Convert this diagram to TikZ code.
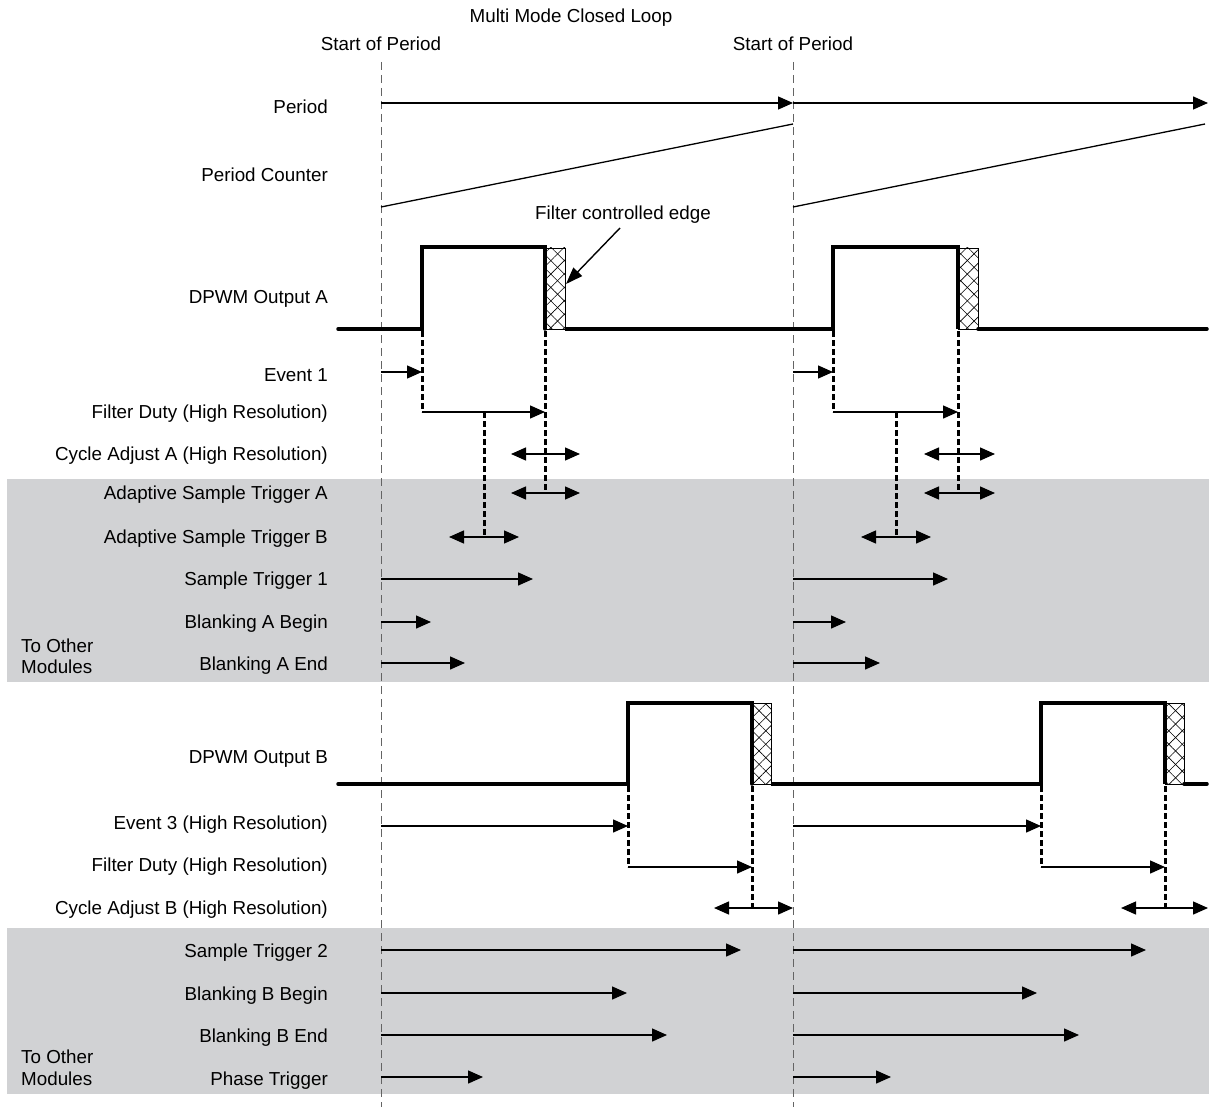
\documentclass[tikz,border=0pt]{standalone}
\usepackage{fontspec}
\setmainfont{Liberation Sans}
\usetikzlibrary{arrows.meta,patterns.meta}
\newcommand{\lblfont}{\fontsize{18.8}{22}\selectfont}
\definecolor{bandgray}{RGB}{209,210,212}
\definecolor{pergray}{RGB}{100,100,100}
\begin{document}
\begin{tikzpicture}[x=1pt,y=-1pt,
  lbl/.style={anchor=base east,inner sep=0pt,font=\lblfont},
  lblw/.style={anchor=base west,inner sep=0pt,font=\lblfont,align=left},
  ttl/.style={anchor=base,inner sep=0pt,font=\lblfont},
  sig/.style={line width=3.5pt,line join=miter},
  tip/.tip={Triangle[length=15pt,width=13pt]},
  arr/.style={line width=1.4pt,-tip},
  darr/.style={line width=1.4pt,tip-tip},
  edgedash/.style={line width=3pt,dash pattern=on 6pt off 3pt},
  perline/.style={pergray,line width=1pt,dash pattern=on 8pt off 5pt},
  ramp/.style={line width=1.3pt},
]
\useasboundingbox (0,0) rectangle (1209,1107);

% shaded bands
\fill[bandgray] (7,479) rectangle (1209,682);
\fill[bandgray] (7,928) rectangle (1209,1094);

% start-of-period lines
\draw[perline] (381,62) -- (381,1107);
\draw[perline] (793,62) -- (793,1107);

% titles
\node[ttl] (title) at (571,23) {Multi Mode Closed Loop};
\node[ttl] (sop1) at (381,51) {Start of Period};
\node[ttl] (sop2) at (793,51) {Start of Period};

% labels
\node[lbl] (lPeriod) at (328,114) {Period};
\node[lbl] (lCounter) at (328,182) {Period Counter};
\node[lbl] (lOutA) at (328,303) {DPWM Output A};
\node[lbl] (lEv1) at (328,381) {Event 1};
\node[lbl] (lFDA) at (328,418) {Filter Duty (High Resolution)};
\node[lbl] (lCAA) at (328,460) {Cycle Adjust A (High Resolution)};
\node[lbl] (lASTA) at (328,499) {Adaptive Sample Trigger A};
\node[lbl] (lASTB) at (328,543) {Adaptive Sample Trigger B};
\node[lbl] (lST1) at (328,585) {Sample Trigger 1};
\node[lbl] (lBAB) at (328,628) {Blanking A Begin};
\node[lbl] (lBAE) at (328,670) {Blanking A End};
\node[lblw] (lTOM1) at (21,652) {To Other};
\node[lblw] (lTOM2) at (21,673) {Modules};
\node[lbl] (lOutB) at (328,763) {DPWM Output B};
\node[lbl] (lEv3) at (328,829) {Event 3 (High Resolution)};
\node[lbl] (lFDB) at (328,871) {Filter Duty (High Resolution)};
\node[lbl] (lCAB) at (328,914) {Cycle Adjust B (High Resolution)};
\node[lbl] (lST2) at (328,957) {Sample Trigger 2};
\node[lbl] (lBBB) at (328,1000) {Blanking B Begin};
\node[lbl] (lBBE) at (328,1042) {Blanking B End};
\node[lblw] (lTOM3) at (21,1063) {To Other};
\node[lblw] (lTOM4) at (21,1085) {Modules};
\node[lbl] (lPT) at (328,1085) {Phase Trigger};

% Period
\draw[arr] (381,103) -- (793,103);
\draw[arr] (793,103) -- (1208,103);
% Period counter
\draw[ramp] (381,207) -- (793,124);
\draw[ramp] (793,207) -- (1205,124);

% hatched boxes
\foreach \xa/\ya/\xb/\yb in {545/248/565/329, 958/248/978/329, 752/703/771/784, 1165/703/1184/784}{
  \fill[white] (\xa,\ya) rectangle (\xb,\yb);
  \fill[pattern={Lines[angle=45,distance=9.5pt,line width=0.6pt]}] (\xa,\ya) rectangle (\xb,\yb);
  \fill[pattern={Lines[angle=-45,distance=9.5pt,line width=0.6pt]}] (\xa,\ya) rectangle (\xb,\yb);
  \draw[line width=0.7pt] (\xa,\ya) rectangle (\xb,\yb);
}

% DPWM Output A
\draw[sig,line cap=round] (338,329) -- (422,329) -- (422,247) -- (545,247) -- (545,329);
\draw[sig] (565,329) -- (833,329) -- (833,247) -- (958,247) -- (958,329);
\draw[sig,line cap=round] (978,329) -- (1207,329);

% Filter controlled edge annotation
\node[ttl] (fce) at (623,220) {Filter controlled edge};
\coordinate (fceTip) at (566,284);
\draw[line width=1.4pt,-{Triangle[length=17pt,width=12pt]}] (620,228) -- (fceTip);

% dashed edge markers A
\draw[edgedash] (422,331) -- (422,412);
\draw[edgedash] (545,331) -- (545,492);
\draw[edgedash] (484,412) -- (484,537);
\draw[edgedash] (833,331) -- (833,412);
\draw[edgedash] (958,331) -- (958,492);
\draw[edgedash] (896,412) -- (896,537);

% rows A
\draw[arr] (381,372) -- (422,372);
\draw[arr] (793,372) -- (833,372);
\draw[arr] (422,412) -- (545,412);
\draw[arr] (833,412) -- (958,412);
\draw[darr] (511,454) -- (580,454);
\draw[darr] (924,454) -- (995,454);
\draw[darr] (511,493) -- (580,493);
\draw[darr] (924,493) -- (995,493);
\draw[darr] (449,537) -- (519,537);
\draw[darr] (861,537) -- (931,537);
\draw[arr] (381,579) -- (533,579);
\draw[arr] (793,579) -- (948,579);
\draw[arr] (381,622) -- (431,622);
\draw[arr] (793,622) -- (846,622);
\draw[arr] (381,663) -- (465,663);
\draw[arr] (793,663) -- (880,663);

% DPWM Output B
\draw[sig,line cap=round] (338,784) -- (628,784) -- (628,703) -- (752,703) -- (752,784);
\draw[sig] (771,784) -- (1041,784) -- (1041,703) -- (1165,703) -- (1165,784);
\draw[sig,line cap=round] (1184,784) -- (1207,784);

% dashed edge markers B
\draw[edgedash] (628,786) -- (628,867);
\draw[edgedash] (752,786) -- (752,908);
\draw[edgedash] (1041,786) -- (1041,867);
\draw[edgedash] (1165,786) -- (1165,908);

% rows B
\draw[arr] (381,826) -- (628,826);
\draw[arr] (793,826) -- (1041,826);
\draw[arr] (628,867) -- (752,867);
\draw[arr] (1041,867) -- (1165,867);
\draw[darr] (714,908) -- (793,908);
\draw[darr] (1121,908) -- (1208,908);
\draw[arr] (381,950) -- (741,950);
\draw[arr] (793,950) -- (1146,950);
\draw[arr] (381,993) -- (627,993);
\draw[arr] (793,993) -- (1037,993);
\draw[arr] (381,1035) -- (667,1035);
\draw[arr] (793,1035) -- (1079,1035);
\draw[arr] (381,1077) -- (483,1077);
\draw[arr] (793,1077) -- (891,1077);
\end{tikzpicture}
\end{document}
